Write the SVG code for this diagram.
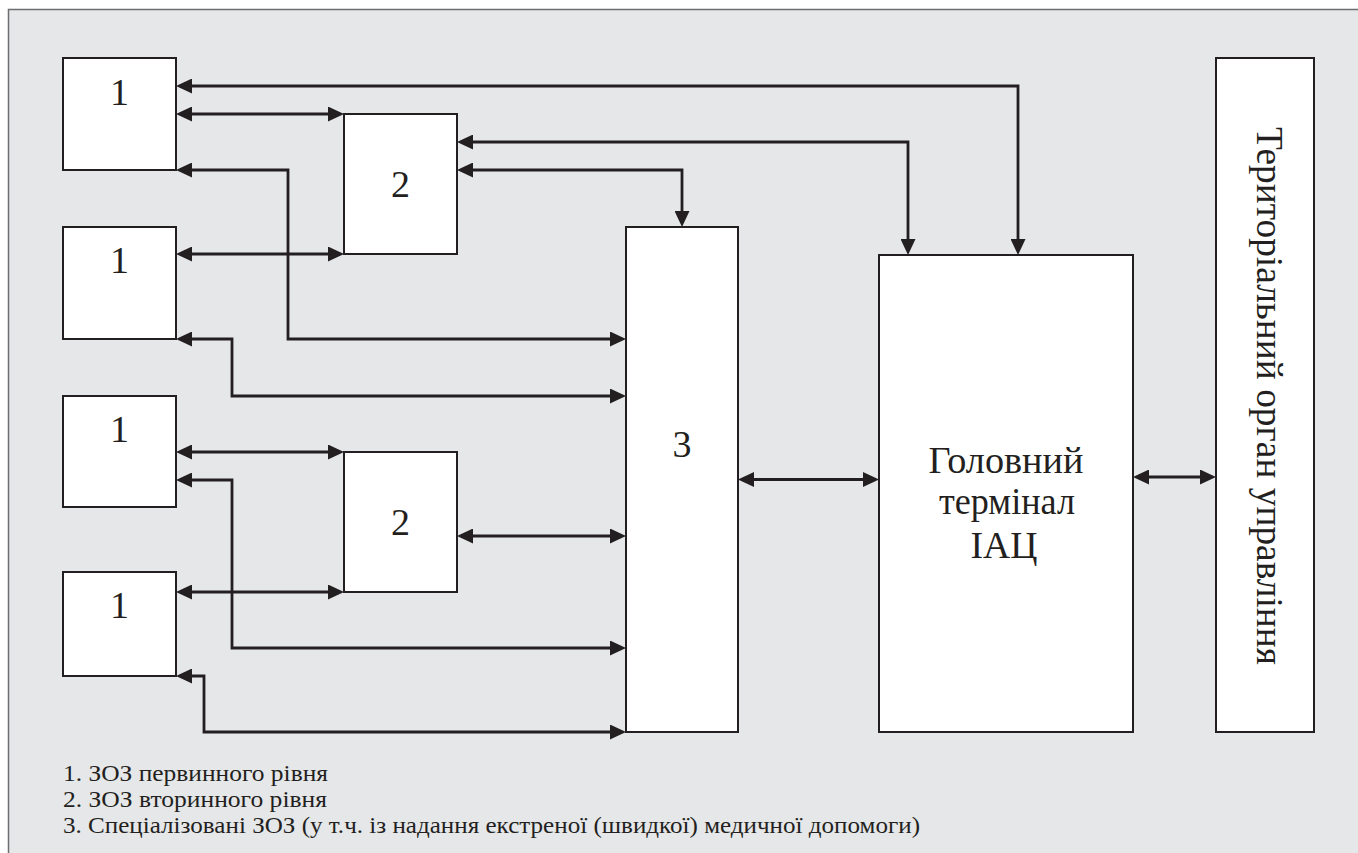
<svg xmlns="http://www.w3.org/2000/svg" width="1358" height="853" viewBox="0 0 1358 853">
<style>
.box{fill:#ffffff;stroke:#231f20;stroke-width:2}
text{font-family:'Liberation Serif','Times New Roman','DejaVu Serif',serif;fill:#231f20;font-weight:normal}
.lbl{text-anchor:middle}
.num{font-size:38px}
.big{font-size:37px}
.leg{font-size:23px}
.c{fill:none;stroke:#231f20;stroke-width:2.8;marker-end:url(#ah)}
.d{marker-start:url(#ah)}
</style>
<defs>
<marker id="ah" markerUnits="userSpaceOnUse" markerWidth="16" markerHeight="15" refX="8" refY="7.5" orient="auto-start-reverse" viewBox="0 0 16 15">
<path d="M0,0 L16,7.5 L0,15 z" fill="#231f20"/>
</marker>
</defs>
<rect x="8.5" y="9.5" width="1360" height="850" fill="#e6e7e9" stroke="#6d6e71" stroke-width="1.5"/>

<g id="node-1a"><rect class="box" x="63" y="58" width="113" height="112"/><text class="lbl num" x="119.5" y="105" font-family="Liberation Serif, serif">1</text></g>
<g id="node-1b"><rect class="box" x="63" y="227" width="113" height="112"/><text class="lbl num" x="119.5" y="273" font-family="Liberation Serif, serif">1</text></g>
<g id="node-1c"><rect class="box" x="63" y="396" width="113" height="111"/><text class="lbl num" x="119.5" y="442" font-family="Liberation Serif, serif">1</text></g>
<g id="node-1d"><rect class="box" x="63" y="572" width="113" height="104"/><text class="lbl num" x="119.5" y="618" font-family="Liberation Serif, serif">1</text></g>
<g id="node-2a"><rect class="box" x="344" y="114" width="113" height="140"/><text class="lbl num" x="400.5" y="197" font-family="Liberation Serif, serif">2</text></g>
<g id="node-2b"><rect class="box" x="344" y="452" width="113" height="140"/><text class="lbl num" x="400.5" y="535" font-family="Liberation Serif, serif">2</text></g>
<g id="node-3"><rect class="box" x="626" y="227" width="112" height="505"/><text class="lbl num" x="682" y="457" font-family="Liberation Serif, serif">3</text></g>
<g id="node-iac"><rect class="box" x="879" y="255" width="254" height="477"/>
<text class="lbl big" x="1006" y="473" textLength="155" lengthAdjust="spacingAndGlyphs">Головний</text>
<text class="lbl big" x="1007" y="514" textLength="136" lengthAdjust="spacingAndGlyphs">термінал</text>
<text class="lbl big" x="1004" y="558" textLength="67" lengthAdjust="spacingAndGlyphs">ІАЦ</text></g>
<g id="node-terr"><rect class="box" x="1216" y="58" width="98" height="674"/>
<text class="lbl big" transform="translate(1257,396) rotate(90)" x="0" y="0" textLength="538" lengthAdjust="spacingAndGlyphs">Територіальний орган управління</text></g>

<g id="connectors">
<path class="c d" d="M184,86 H1018 V247"/>
<path class="c d" d="M184,114 H336"/>
<path class="c d" d="M184,170 H288 V339 H618"/>
<path class="c d" d="M465,142 H908 V247"/>
<path class="c d" d="M465,170 H682 V219"/>
<path class="c d" d="M184,254 H336"/>
<path class="c d" d="M184,339 H232 V396 H618"/>
<path class="c d" d="M184,452 H336"/>
<path class="c d" d="M184,480 H232 V648 H618"/>
<path class="c d" d="M465,536 H618"/>
<path class="c d" d="M184,592 H336"/>
<path class="c d" d="M184,676 H204 V732 H618"/>
<path class="c d" d="M746,479.5 H871"/>
<path class="c d" d="M1141,477 H1208"/>
</g>

<g id="legend">
<text class="leg" x="63" y="781" textLength="265" lengthAdjust="spacingAndGlyphs">1. ЗОЗ первинного рівня</text>
<text class="leg" x="63" y="807" textLength="264" lengthAdjust="spacingAndGlyphs">2. ЗОЗ вторинного рівня</text>
<text class="leg" x="63" y="833" textLength="857" lengthAdjust="spacingAndGlyphs">3. Спеціалізовані ЗОЗ (у т.ч. із надання екстреної (швидкої) медичної допомоги)</text>
</g>
</svg>
